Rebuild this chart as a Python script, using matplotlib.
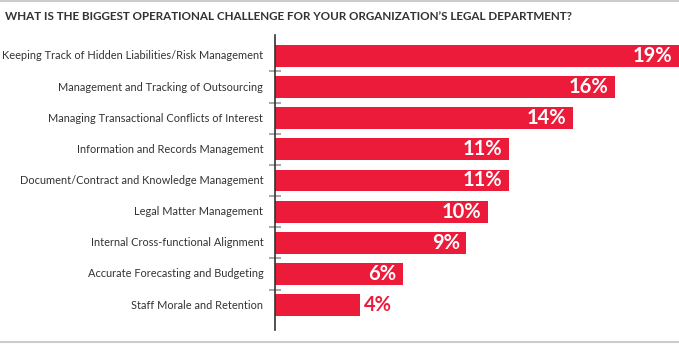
import matplotlib.pyplot as plt
from matplotlib.lines import Line2D

# survey answers, top to bottom
challenges = [
    "Keeping Track of Hidden Liabilities/Risk Management",
    "Management and Tracking of Outsourcing",
    "Managing Transactional Conflicts of Interest",
    "Information and Records Management",
    "Document/Contract and Knowledge Management",
    "Legal Matter Management",
    "Internal Cross-functional Alignment",
    "Accurate Forecasting and Budgeting",
    "Staff Morale and Retention",
]
shares = [19, 16, 14, 11, 11, 10, 9, 6, 4]

red = "#ED1B3A"
dark = "#333333"

plt.rcParams["font.family"] = ["Lato", "DejaVu Sans"]

fig = plt.figure(figsize=(6.79, 3.44), dpi=100)
ax = fig.add_axes([275 / 679, 14 / 344, 404 / 679, 295 / 344])

rows = list(range(len(challenges)))
ax.barh(rows, shares, height=0.7, color=red, edgecolor="none")
ax.set_xlim(0, 19)
ax.set_ylim(8.8, -0.67)

# value labels: inside the bar, or just outside when the bar is short
for y, v in zip(rows, shares):
    if v >= 5:
        ax.text(v - 0.3, y, f"{v}%", ha="right", va="center", color="white",
                fontsize=14.5, fontweight="bold")
    else:
        ax.text(v + 0.2, y, f"{v}%", ha="left", va="center", color=red,
                fontsize=14.5, fontweight="bold")

# category names sit left of the axis
for y, name in zip(rows, challenges):
    ax.text(-0.55, y, name, ha="right", va="center", color=dark, fontsize=7.9)

ax.set_xticks([])
ax.set_yticks([r + 0.5 for r in rows[:-1]])
ax.set_yticklabels([])
ax.tick_params(axis="y", direction="inout", length=9, width=1.2, color="#999999")
for s in ["top", "right", "bottom"]:
    ax.spines[s].set_visible(False)
ax.spines["left"].set_color(dark)
ax.spines["left"].set_linewidth(1.2)

fig.text(5 / 679, 1 - 17 / 344,
         "WHAT IS THE BIGGEST OPERATIONAL CHALLENGE FOR YOUR ORGANIZATION\u2019S LEGAL DEPARTMENT?",
         ha="left", va="center", color=dark, fontsize=8.35, fontweight="bold")

# thin gray rules at top and bottom
for yy in [1 - 1 / 344, 1 - 342 / 344]:
    fig.add_artist(Line2D([0, 1], [yy, yy], color="#cccccc", lw=1.5,
                          transform=fig.transFigure))

fig.savefig("out.png", dpi=100)
